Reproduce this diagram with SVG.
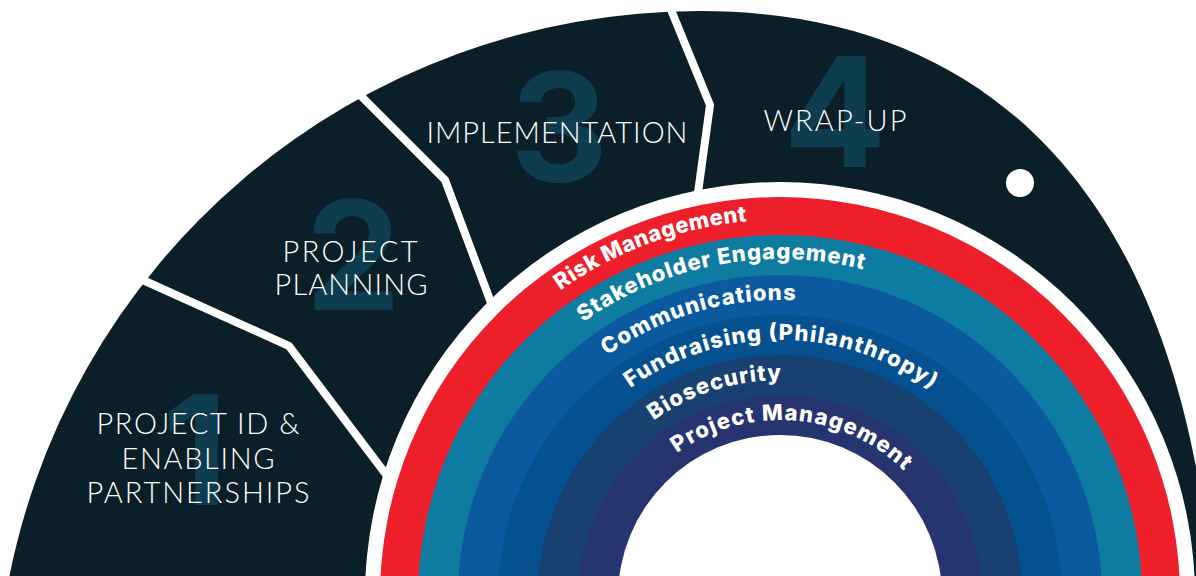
<svg xmlns="http://www.w3.org/2000/svg" width="1196" height="576" viewBox="0 0 1196 576">
<style>
.bg{fill:#0b1f28}
.num{fill:#0d3d4f;font-family:Inter,'Open Sans','Liberation Sans',sans-serif;font-weight:700;font-size:152px;text-anchor:middle}
.stage{fill:#fff;font-family:Lato,'Open Sans','Liberation Sans',sans-serif;font-weight:300;font-size:29px;text-anchor:middle}
.sep{fill:none;stroke:#fff;stroke-width:8;stroke-linejoin:miter}
.ring{fill:#fff;font-family:Inter,'Open Sans','Liberation Sans',sans-serif;font-weight:800;font-size:22px}
</style>
<defs>
<path id="p-risk" d="M560.5,290.5 A377,377 0 0 1 1134.3,468.1"/>
<path id="p-stake" d="M583.3,322.2 A338,338 0 0 1 1097.6,481.4"/>
<path id="p-comm" d="M607.1,355.5 A297,297 0 0 1 1059.1,495.4"/>
<path id="p-fund" d="M630.4,388 A257,257 0 0 1 1021.5,509.1"/>
<path id="p-bio" d="M653.7,420.6 A217,217 0 0 1 983.9,522.8"/>
<path id="p-pm" d="M677,453.1 A177,177 0 0 1 946.3,536.5"/>
</defs>

<g id="background">
<path class="bg" d="M5,600 A704,704 0 0 1 700,11 C980,11 1141.8,182.2 1196,467 L1217,576 L1217,600 Z"/>
</g>

<g id="stage-1">
<text class="num" x="195" y="505">1</text>
<text class="stage" x="198" y="434" textLength="203">PROJECT ID &amp;</text>
<text class="stage" x="198" y="469" textLength="153">ENABLING</text>
<text class="stage" x="198" y="503" textLength="223">PARTNERSHIPS</text>
</g>
<g id="stage-2">
<text class="num" x="353" y="310">2</text>
<text class="stage" x="350" y="262" textLength="135">PROJECT</text>
<text class="stage" x="351" y="295" textLength="153">PLANNING</text>
</g>
<g id="stage-3">
<text class="num" x="559" y="182">3</text>
<text class="stage" x="557" y="143" textLength="261">IMPLEMENTATION</text>
</g>
<g id="stage-4">
<text class="num" x="835" y="167">4</text>
<text class="stage" x="835" y="131" textLength="143">WRAP-UP</text>
<circle cx="1020" cy="183" r="14" fill="#fff"/>
</g>

<g id="connectors">
<path class="sep" d="M125,272 L289,346 L388,477"/>
<path class="sep" d="M348,83 L445,180 L493,308"/>
<path class="sep" d="M667,0 L710,105 L697,200"/>
</g>

<g id="rings">
<circle cx="780" cy="597" r="415" fill="#fff"/>
<g id="ring-risk"><circle cx="780" cy="597" r="400" fill="#ec1f2b"/></g>
<g id="ring-stakeholder"><circle cx="780" cy="597" r="362" fill="#0e7ba0"/></g>
<g id="ring-communications"><circle cx="780" cy="597" r="322" fill="#0b5a9f"/></g>
<g id="ring-fundraising"><circle cx="780" cy="597" r="282" fill="#05508e"/></g>
<g id="ring-biosecurity"><circle cx="780" cy="597" r="242" fill="#184070"/></g>
<g id="ring-pm"><circle cx="780" cy="597" r="202" fill="#26346f"/></g>
<circle cx="780" cy="597" r="162" fill="#fff"/>
<text class="ring"><textPath href="#p-risk" textLength="201">Risk Management</textPath></text>
<text class="ring"><textPath href="#p-stake" textLength="294">Stakeholder Engagement</textPath></text>
<text class="ring"><textPath href="#p-comm" textLength="200">Communications</textPath></text>
<text class="ring"><textPath href="#p-fund" textLength="321">Fundraising (Philanthropy)</textPath></text>
<text class="ring"><textPath href="#p-bio" textLength="136">Biosecurity</textPath></text>
<text class="ring"><textPath href="#p-pm" textLength="247">Project Management</textPath></text>
</g>
</svg>
